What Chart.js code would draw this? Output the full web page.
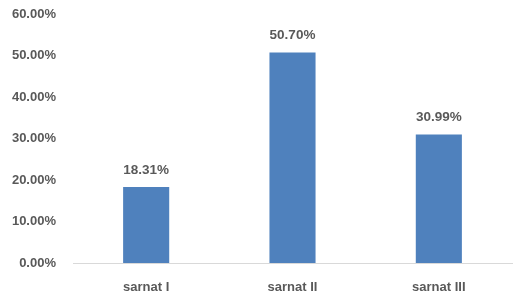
<!DOCTYPE html>
<html lang="en">
  <head>
    <meta charset="UTF-8" />
    <title>sarnat</title>
    <script src="https://cdn.jsdelivr.net/npm/chart.js"></script>
    <style>
      html, body { margin: 0; padding: 0; background: #fff; }
      #wrap { width: 520px; height: 303px; }
    </style>
  </head>
  <body>
    <div id="wrap"><canvas id="chart" width="520" height="303"></canvas></div>
    <script>
      // chart data
      const categories = ["sarnat I", "sarnat II", "sarnat III"];
      const values = [18.31, 50.7, 30.99];
      const yTicks = [0, 10, 20, 30, 40, 50, 60];

      const fontFamily = "'Liberation Sans', Arial, sans-serif";
      const textColor = "#595959";

      // labels above bars
      const barLabels = {
        id: "barLabels",
        afterDatasetsDraw(chart) {
          const ctx = chart.ctx;
          const meta = chart.getDatasetMeta(0);
          ctx.save();
          ctx.font = "bold 13.5px " + fontFamily;
          ctx.fillStyle = textColor;
          ctx.textAlign = "center";
          ctx.textBaseline = "middle";
          meta.data.forEach((bar, i) => {
            ctx.fillText(values[i].toFixed(2) + "%", bar.x, bar.y - 17);
          });
          ctx.restore();
        },
      };

      new Chart(document.getElementById("chart"), {
        type: "bar",
        data: {
          labels: categories,
          datasets: [
            {
              data: values,
              backgroundColor: "#4f81bd",
              borderWidth: 0,
              barPercentage: 0.315,
              categoryPercentage: 1,
            },
          ],
        },
        options: {
          responsive: false,
          animation: false,
          layout: { padding: { top: 14, right: 8, left: 0, bottom: 0 } },
          plugins: { legend: { display: false }, tooltip: { enabled: false } },
          scales: {
            x: {
              grid: { display: false, drawTicks: false },
              border: { color: "#d9d9d9", width: 1 },
              ticks: {
                color: textColor,
                font: { family: fontFamily, size: 13, weight: "bold" },
                padding: 17,
              },
              afterFit(scale) { scale.height = 40; },
            },
            y: {
              min: 0,
              max: 60,
              afterBuildTicks(scale) {
                scale.ticks = yTicks.map((v) => ({ value: v }));
              },
              grid: { display: false, drawTicks: false },
              border: { display: false },
              ticks: {
                color: textColor,
                font: { family: fontFamily, size: 13, weight: "bold" },
                padding: 17,
                callback: (v) => v.toFixed(2) + "%",
              },
              afterFit(scale) {
                scale.width = 73;
                // tick padding is horizontal gap only, no extra top/bottom space
                scale.paddingTop = 0;
                scale.paddingBottom = 0;
              },
            },
          },
        },
        plugins: [barLabels],
      });
    </script>
  </body>
</html>
